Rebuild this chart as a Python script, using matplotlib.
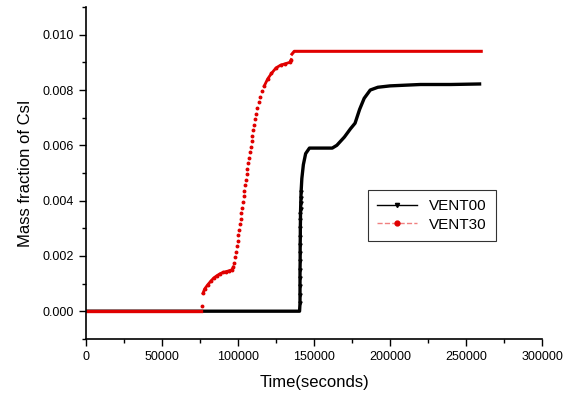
import matplotlib
matplotlib.use("Agg")
import matplotlib.pyplot as plt
from matplotlib.lines import Line2D
from matplotlib.ticker import MultipleLocator, FormatStrFormatter

plt.rcParams['font.family'] = ['Liberation Sans', 'DejaVu Sans']

# VENT30 (red)
vent30_start_t = [0, 20000, 40000, 60000, 76000]
vent30_start_y = [0, 0, 0, 0, 0]
vent30_jump_t = [76300]
vent30_jump_y = [0.00018]
vent30_low_t = [77000, 78000, 80000, 82000, 84000, 86000, 88000, 90000, 92000, 94000, 96000, 97000]
vent30_low_y = [0.00065, 0.0008, 0.00095, 0.00108, 0.0012, 0.00128, 0.00135, 0.0014, 0.00143,
                0.00146, 0.0015, 0.0016]
vent30_steep_t = [97600, 98200, 98700, 99200, 99700, 100200, 100700, 101200, 101700, 102200,
                  102700, 103200, 103700, 104200, 104700, 105200, 105700, 106200, 106700, 107200,
                  107700, 108300, 108900, 109500, 110100, 110700, 111300, 112000, 112800, 113700,
                  114700, 115900]
vent30_steep_y = [0.00175, 0.00195, 0.00215, 0.00235, 0.00255, 0.00275, 0.00295, 0.00315, 0.00335,
                  0.00355, 0.00375, 0.00395, 0.00415, 0.00435, 0.00455, 0.00475, 0.00495, 0.00515,
                  0.00535, 0.00555, 0.00575, 0.00595, 0.00615, 0.00635, 0.00655, 0.00675, 0.00695,
                  0.00715, 0.00735, 0.00755, 0.00775, 0.00795]
vent30_top_t = [117300, 119500, 122000, 125000, 128000, 131000, 134000, 135000]
vent30_top_y = [0.00815, 0.0084, 0.0086, 0.0088, 0.0089, 0.00895, 0.0090, 0.0091]
vent30_end_t = [135500, 137000, 160000, 200000, 230000, 260000]
vent30_end_y = [0.0093, 0.0094, 0.0094, 0.0094, 0.0094, 0.0094]

# VENT00 (black)
vent00_t = [0, 40000, 80000, 120000, 140500,
            140800, 140800, 140800, 140800, 140800, 140900, 140900, 140900, 141000, 141000,
            141100, 141100, 141200, 141300, 141400, 141500,
            142000, 143000, 144500, 147000, 155000, 162000, 165000, 170000, 174000, 177000,
            180000, 183000, 187000, 192000, 200000, 220000, 240000, 260000]
vent00_y = [0, 0, 0, 0, 0,
            0.0003, 0.0006, 0.0009, 0.0012, 0.0015, 0.0018, 0.0021, 0.0024, 0.0027, 0.0030,
            0.0033, 0.0035, 0.0037, 0.0039, 0.0041, 0.0043,
            0.0048, 0.0053, 0.0057, 0.0059, 0.0059, 0.0059, 0.0060, 0.0063, 0.0066, 0.0068,
            0.0073, 0.0077, 0.0080, 0.0081, 0.00815, 0.0082, 0.0082, 0.00822]

red = "#e00000"

fig = plt.figure(figsize=(5.73, 3.94), dpi=100)
ax = fig.add_axes([0.150, 0.140, 0.796, 0.842])

ax.plot(vent00_t, vent00_y, color="black", lw=2.4, solid_capstyle="butt")
ax.plot(vent00_t[5:21], vent00_y[5:21], ls="none", marker="v", ms=2.3, color="black")

ax.plot(vent30_start_t, vent30_start_y, color=red, lw=2.4)
ax.plot(vent30_jump_t, vent30_jump_y, ls="none", marker="o", ms=1.8, color=red)
ax.plot(vent30_low_t, vent30_low_y, color=red, lw=2.0, marker="o", ms=1.8)
ax.plot(vent30_steep_t, vent30_steep_y, ls="none", marker="o", ms=1.8, color=red)
ax.plot(vent30_top_t, vent30_top_y, color=red, lw=2.0, marker="o", ms=1.8)
ax.plot(vent30_end_t, vent30_end_y, color=red, lw=2.2)

ax.set_xlim(0, 300000)
ax.set_ylim(-0.001, 0.011)
ax.xaxis.set_major_locator(MultipleLocator(50000))
ax.xaxis.set_minor_locator(MultipleLocator(25000))
ax.yaxis.set_major_locator(MultipleLocator(0.002))
ax.yaxis.set_minor_locator(MultipleLocator(0.001))
ax.yaxis.set_major_formatter(FormatStrFormatter("%.3f"))
ax.tick_params(which="major", direction="out", length=5, width=1, labelsize=9)
ax.tick_params(which="minor", direction="out", length=3, width=1)
for s in ["top", "right"]:
    ax.spines[s].set_visible(False)
for s in ["left", "bottom"]:
    ax.spines[s].set_linewidth(1.2)

ax.set_xlabel("Time(seconds)", fontsize=12, labelpad=9)
ax.set_ylabel("Mass fraction of CsI", fontsize=12, labelpad=7)

handles = [
    Line2D([], [], color="black", lw=1, marker="v", ms=3),
    Line2D([], [], color="#f08080", lw=1, ls="--", marker="o", ms=3.5, mfc=red, mec=red),
]
leg = ax.legend(handles, ["VENT00", "VENT30"], loc="lower left", bbox_to_anchor=(0.602, 0.272),
                fontsize=11, frameon=True, fancybox=False, edgecolor="black",
                handlelength=2.6, borderpad=0.6, labelspacing=0.3)
leg.get_frame().set_linewidth(0.8)

fig.savefig("out.png", dpi=100)
